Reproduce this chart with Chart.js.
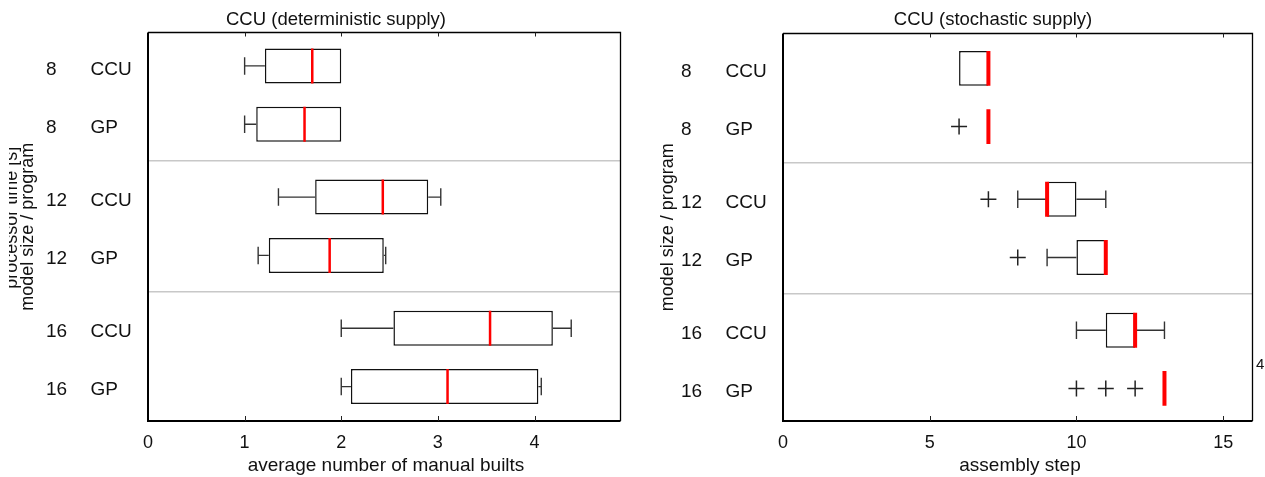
<!DOCTYPE html>
<html>
<head>
<meta charset="utf-8">
<script src="https://cdn.jsdelivr.net/npm/chart.js@4/dist/chart.umd.min.js"></script>
<style>
  html, body { margin: 0; padding: 0; background: #fff; }
  body { width: 1265px; height: 477px; position: relative; overflow: hidden; }
  canvas { position: absolute; top: 0; }
  #detChart { left: 0; }
  #stoChart { left: 640px; }
</style>
</head>
<body>
<canvas id="detChart" width="640" height="477"></canvas>
<canvas id="stoChart" width="625" height="477"></canvas>
<script>
// rows, top to bottom
const sizes = ['8', '8', '12', '12', '16', '16'];
const programs = ['CCU', 'GP', 'CCU', 'GP', 'CCU', 'GP'];
const rowPos = [1, 2, 3.25, 4.25, 5.5, 6.5];
const groupBreaks = [2.625, 4.875];

// deterministic supply: average number of manual builts
const detMin = [1.00, 1.00, 1.35, 1.14, 2.00, 2.00];
const detQ1  = [1.21, 1.12, 1.73, 1.25, 2.54, 2.10];
const detMed = [1.70, 1.62, 2.43, 1.88, 3.54, 3.10];
const detQ3  = [2.00, 2.00, 2.90, 2.44, 4.19, 4.04];
const detMax = [2.00, 2.00, 3.03, 2.46, 4.38, 4.07];
const detOut = [[], [], [], [], [], []];
const detTicks = [0, 1, 2, 3, 4];

// stochastic supply: assembly step
const stoMin = [6, 7, 8, 9, 10, 13];
const stoQ1  = [6, 7, 9, 10, 11, 13];
const stoMed = [7, 7, 9, 11, 12, 13];
const stoQ3  = [7, 7, 10, 11, 12, 13];
const stoMax = [7, 7, 11, 11, 13, 13];
const stoOut = [[], [6], [7], [8], [], [10, 11, 12]];
const stoTicks = [0, 5, 10, 15];

const FONT = '"Liberation Sans", Arial, sans-serif';
const INK = '#111';
const GAP = { x: null, y: null };
const CAP = 0.15;   // half height of whisker caps, in row units
const HALF = 0.3;   // half box height, in row units

function whiskerData(mins, q1s, q3s, maxs) {
  const pts = [];
  rowPos.forEach((y, i) => {
    if (mins[i] < q1s[i]) {
      pts.push({ x: mins[i], y: y - CAP }, { x: mins[i], y: y + CAP }, GAP);
      pts.push({ x: mins[i], y }, { x: q1s[i], y }, GAP);
    }
    if (maxs[i] > q3s[i]) {
      pts.push({ x: q3s[i], y }, { x: maxs[i], y }, GAP);
      pts.push({ x: maxs[i], y: y - CAP }, { x: maxs[i], y: y + CAP }, GAP);
    }
  });
  return pts;
}

function medianData(meds) {
  const pts = [];
  rowPos.forEach((y, i) => {
    pts.push({ x: meds[i], y: y - HALF }, { x: meds[i], y: y + HALF }, GAP);
  });
  return pts;
}

function outlierData(outs) {
  const pts = [];
  outs.forEach((list, i) => list.forEach(v => pts.push({ x: v, y: rowPos[i] })));
  return pts;
}

function boxData(q1s, q3s) {
  return rowPos.map((y, i) => ({ x: [q1s[i], q3s[i]], y }));
}

const framePlugin = {
  id: 'frame',
  afterDatasetsDraw(chart) {
    const { ctx, chartArea: a, scales: { x } } = chart;
    ctx.save();
    ctx.strokeStyle = '#000';
    ctx.lineWidth = 1.3;
    ctx.beginPath();
    ctx.moveTo(a.left, a.top);
    ctx.lineTo(a.right, a.top);
    ctx.lineTo(a.right, a.bottom);
    ctx.stroke();
    ctx.lineWidth = 2;
    ctx.beginPath();
    ctx.moveTo(a.left, a.top);
    ctx.lineTo(a.left, a.bottom);
    ctx.lineTo(a.right, a.bottom);
    ctx.stroke();
    // inner tick marks, top and bottom
    ctx.lineWidth = 1;
    ctx.strokeStyle = '#222';
    x.ticks.forEach(t => {
      if (t.value === x.min) return;
      const px = Math.round(x.getPixelForValue(t.value)) + 0.5;
      ctx.beginPath();
      ctx.moveTo(px, a.top);
      ctx.lineTo(px, a.top + 4);
      ctx.moveTo(px, a.bottom);
      ctx.lineTo(px, a.bottom - 5);
      ctx.stroke();
    });
    ctx.restore();
  }
};

function textPlugin(cfg) {
  return {
    id: 'texts',
    afterDraw(chart) {
      const { ctx, chartArea: a, scales: { y } } = chart;
      ctx.save();
      ctx.fillStyle = INK;
      ctx.textBaseline = 'alphabetic';

      ctx.textAlign = 'center';
      ctx.font = '18.5px ' + FONT;
      ctx.fillText(cfg.title, cfg.titleX, 25);
      ctx.font = '19px ' + FONT;
      ctx.fillText(cfg.xTitle, cfg.xTitleX, 470.5);

      ctx.textAlign = 'left';
      ctx.font = '19px ' + FONT;
      rowPos.forEach((p, i) => {
        const py = y.getPixelForValue(p) + 8.8;
        ctx.fillText(sizes[i], a.left - 102, py);
        ctx.fillText(programs[i], a.left - 57.5, py);
      });

      if (cfg.corner) {
        ctx.font = '15px ' + FONT;
        ctx.fillText(cfg.corner, a.right + 3.5, 369);
      }

      if (cfg.hiddenTitle) {
        ctx.save();
        ctx.beginPath();
        ctx.rect(9, 0, 60, chart.height);
        ctx.clip();
        ctx.translate(16.5, (a.top + a.bottom) / 2 - 9);
        ctx.rotate(-Math.PI / 2);
        ctx.textAlign = 'center';
        ctx.font = '18px ' + FONT;
        ctx.fillText(cfg.hiddenTitle, 0, 0);
        ctx.restore();
      }

      ctx.translate(33, (a.top + a.bottom) / 2);
      ctx.rotate(-Math.PI / 2);
      ctx.textAlign = 'center';
      ctx.font = '18px ' + FONT;
      ctx.fillText(cfg.yTitle, 0, 0);
      ctx.restore();
    }
  };
}

function makeChart(id, d, cfg) {
  const ctx = document.getElementById(id).getContext('2d');
  return new Chart(ctx, {
    type: 'bar',
    data: {
      datasets: [
        {
          type: 'scatter',
          data: outlierData(d.out),
          pointStyle: 'cross',
          pointRadius: 8,
          borderColor: '#222',
          borderWidth: 1.5,
          order: 1
        },
        {
          type: 'line',
          data: medianData(d.med),
          borderColor: '#ff0000',
          borderWidth: cfg.medianWidth,
          borderCapStyle: 'butt',
          pointRadius: 0,
          spanGaps: false,
          fill: false,
          order: 2
        },
        {
          type: 'line',
          data: whiskerData(d.min, d.q1, d.q3, d.max),
          borderColor: '#333333',
          borderWidth: 1.4,
          borderCapStyle: 'butt',
          pointRadius: 0,
          spanGaps: false,
          fill: false,
          order: 3
        },
        {
          type: 'bar',
          indexAxis: 'y',
          data: boxData(d.q1, d.q3),
          backgroundColor: '#ffffff',
          borderColor: '#111111',
          borderWidth: 1.5,
          borderSkipped: false,
          categoryPercentage: 1,
          barPercentage: 0.6,
          order: 4
        }
      ]
    },
    options: {
      responsive: false,
      animation: false,
      events: [],
      layout: { padding: { top: cfg.top, right: cfg.right, left: 0, bottom: 0 } },
      plugins: {
        legend: { display: false },
        tooltip: { enabled: false },
        title: { display: false }
      },
      scales: {
        x: {
          type: 'linear',
          position: 'bottom',
          min: 0,
          max: cfg.xMax,
          offset: false,
          afterBuildTicks: s => { s.ticks = d.ticks.map(v => ({ value: v })); },
          afterFit: s => { s.height = cfg.xHeight; },
          grid: { display: false, offset: false },
          border: { display: false },
          ticks: {
            autoSkip: false,
            maxRotation: 0,
            padding: 3,
            color: INK,
            font: { family: FONT, size: 18 }
          }
        },
        y: {
          type: 'linear',
          position: 'left',
          reverse: true,
          min: cfg.yMin,
          max: cfg.yMax,
          offset: false,
          afterBuildTicks: s => { s.ticks = groupBreaks.map(v => ({ value: v })); },
          afterFit: s => { s.width = cfg.left; },
          grid: { color: '#c8c8c8', lineWidth: 1.5, drawTicks: false, offset: false },
          border: { display: false },
          ticks: { display: false }
        }
      }
    },
    plugins: [framePlugin, textPlugin(cfg)]
  });
}

makeChart('detChart',
  { min: detMin, q1: detQ1, med: detMed, q3: detQ3, max: detMax, out: detOut, ticks: detTicks },
  {
    title: 'CCU (deterministic supply)', titleX: 336,
    xTitle: 'average number of manual builts', xTitleX: 386,
    yTitle: 'model size / program', hiddenTitle: 'processor time [s]',
    xMax: 4.89, yMin: 0.427, yMax: 7.09,
    top: 32.5, right: 19.5, left: 148, xHeight: 56,
    medianWidth: 2.5
  });

makeChart('stoChart',
  { min: stoMin, q1: stoQ1, med: stoMed, q3: stoQ3, max: stoMax, out: stoOut, ticks: stoTicks },
  {
    title: 'CCU (stochastic supply)', titleX: 353,
    xTitle: 'assembly step', xTitleX: 380,
    yTitle: 'model size / program', corner: '4',
    xMax: 16, yMin: 0.40, yMax: 7.06,
    top: 33.5, right: 12.5, left: 143, xHeight: 56,
    medianWidth: 4
  });
</script>
</body>
</html>
